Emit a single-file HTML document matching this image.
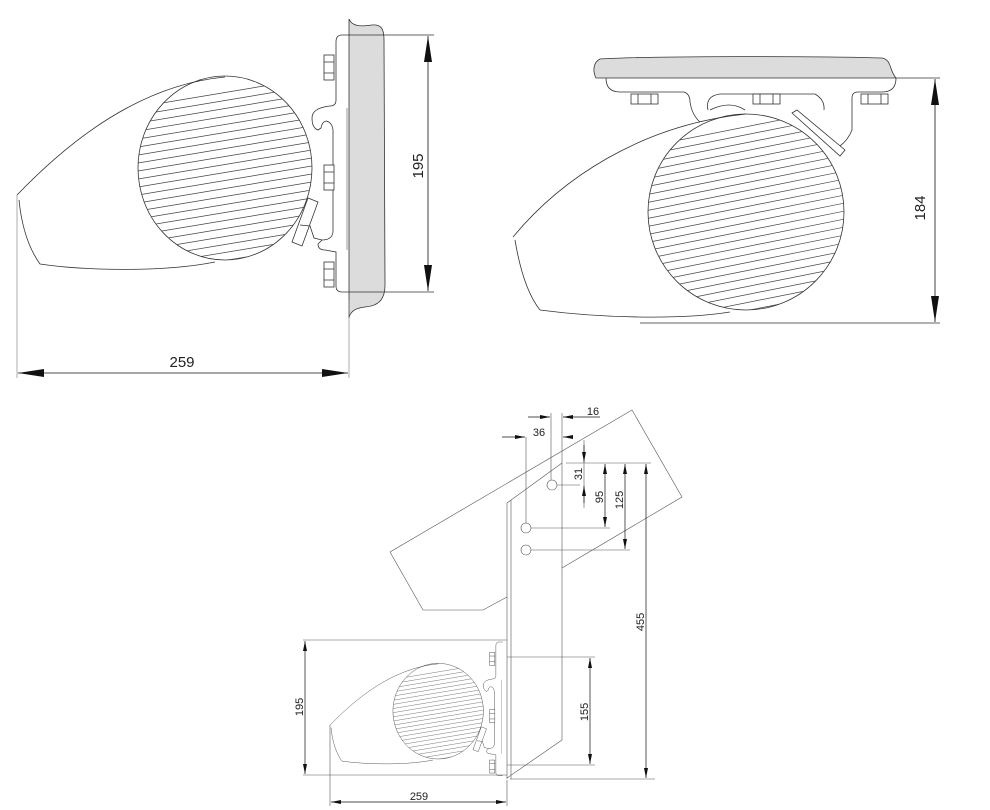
<!DOCTYPE html>
<html><head><meta charset="utf-8"><style>
html,body{margin:0;padding:0;background:#fff;}
svg{display:block;}
text{font-family:"Liberation Sans",sans-serif;fill:#222;}
</style></head><body>
<svg width="990" height="810" viewBox="0 0 990 810" xmlns="http://www.w3.org/2000/svg">
<defs>
<marker id="ar" viewBox="0 0 10 4" refX="10" refY="2" markerWidth="10" markerHeight="4" orient="auto-start-reverse" markerUnits="userSpaceOnUse"><path d="M0,0 L10,2 L0,4z" fill="#111"/></marker>
<marker id="ab" viewBox="0 0 26 8" refX="26" refY="4" markerWidth="26" markerHeight="8" orient="auto-start-reverse" markerUnits="userSpaceOnUse"><path d="M0,0 L26,4 L0,8z" fill="#111"/></marker>
<clipPath id="c1"><ellipse cx="225" cy="168" rx="87" ry="92"/></clipPath>
<clipPath id="c2"><ellipse cx="746" cy="212" rx="98" ry="98"/></clipPath>
<g id="spk">
 <path d="M17,195 C70,140 140,85 225,77" fill="none" stroke="#333" stroke-width="0.8"/>
 <path d="M19,200 C22,230 30,250 40,264 C80,270 160,273 215,262" fill="none" stroke="#333" stroke-width="0.8"/>
 <ellipse cx="225" cy="168" rx="87" ry="92" fill="none" stroke="#333" stroke-width="0.8"/>
 <g clip-path="url(#c1)" stroke="#444" stroke-width="0.7">
  <path d="M120,110 L330,75 M120,118 L330,83 M120,126 L330,91 M120,134 L330,99 M120,142 L330,107 M120,150 L330,115 M120,158 L330,123 M120,166 L330,131 M120,174 L330,139 M120,182 L330,147 M120,190 L330,155 M120,198 L330,163 M120,206 L330,171 M120,214 L330,179 M120,222 L330,187 M120,230 L330,195 M120,238 L330,203 M120,246 L330,211 M120,254 L330,219 M120,262 L330,227 M120,270 L330,235 M120,278 L330,243 M120,286 L330,251 M120,294 L330,259 M120,302 L330,267 M120,310 L330,275 M120,318 L330,283"/>
 </g>
 <path d="M349,35 L342,35 Q336,35 336,42 L336,100 Q336,106 330,106 Q312,108 312,118 Q312,128 318,130 L321,128 Q322,122 326,121 Q332,122 333,130 L333,232 Q332,240 322,240 L318,244 Q318,250 325,250 L336,252 L336,286 Q336,292 342,292 L349,292" fill="none" stroke="#333" stroke-width="0.8"/>
 <path d="M347,108 L347,250" stroke="#555" stroke-width="0.6"/>
 <path d="M308,198 L318,202 L302,246 L292,242 Z" fill="#fff" stroke="#333" stroke-width="0.8"/>
 <path d="M300,225 L310,226 L314,238 L322,240" fill="none" stroke="#333" stroke-width="0.8"/>
 <g fill="#fff" stroke="#333" stroke-width="0.8">
  <rect x="324" y="55" width="10" height="25"/><path d="M324,62 H334 M324,73 H334"/>
  <rect x="324" y="165" width="10" height="25"/><path d="M324,172 H334 M324,183 H334"/>
  <rect x="324" y="262" width="10" height="25"/><path d="M324,269 H334 M324,280 H334"/>
 </g>
</g>
</defs>

<!-- TOP LEFT -->
<path d="M349,19 C352,26 360,27 372,25 C382,24 384,30 384,40 L385,285 C385,300 378,306 365,307 C355,308 350,312 349,318 Z" fill="#dcdcdc" stroke="#333" stroke-width="0.8"/>
<use href="#spk"/>
<path d="M349,35 H434 M349,292 H434" stroke="#333" stroke-width="0.8"/>
<line x1="428" y1="36" x2="428" y2="291" stroke="#111" stroke-width="0.8" marker-start="url(#ab)" marker-end="url(#ab)"/>
<text x="0" y="0" font-size="15" transform="translate(423,166) rotate(-90)" text-anchor="middle">195</text>
<path d="M17,195 V378 M349,300 V378" stroke="#777" stroke-width="0.6"/>
<line x1="18" y1="373" x2="348" y2="373" stroke="#111" stroke-width="0.8" marker-start="url(#ab)" marker-end="url(#ab)"/>
<text x="182" y="367" font-size="15" text-anchor="middle">259</text>

<!-- TOP RIGHT -->
<path d="M596,78 C592,70 594,62 600,59 C650,56 820,56 882,58 C892,60 889,70 896,78 Z" fill="#dcdcdc" stroke="#333" stroke-width="0.8"/>
<path d="M606,78 Q606,92 620,92 L684,92 Q690,94 690,102 Q692,115 700,122 M896,78 Q896,92 882,92 L858,92 Q852,92 852,98 L852,130 Q848,140 840,146" fill="none" stroke="#333" stroke-width="0.8"/>
<path d="M708,110 Q705,96 720,94 L815,94 Q825,100 824,110 M710,110 Q730,100 745,110" fill="none" stroke="#333" stroke-width="0.8"/>
<g fill="#fff" stroke="#333" stroke-width="0.8">
 <rect x="631" y="94" width="27" height="10"/><path d="M638,94 V104 M651,94 V104"/>
 <rect x="753" y="94" width="27" height="10"/><path d="M760,94 V104 M773,94 V104"/>
 <rect x="861" y="94" width="27" height="10"/><path d="M868,94 V104 M881,94 V104"/>
</g>
<path d="M513,237 C560,180 640,125 746,114" fill="none" stroke="#333" stroke-width="0.8"/>
<path d="M515,240 C520,270 528,295 540,310 C600,318 680,320 730,312" fill="none" stroke="#333" stroke-width="0.8"/>
<ellipse cx="746" cy="212" rx="98" ry="98" fill="none" stroke="#333" stroke-width="0.8"/>
<g clip-path="url(#c2)" stroke="#444" stroke-width="0.7">
 <path d="M640,148 L860,104 M640,156 L860,112 M640,164 L860,120 M640,172 L860,128 M640,180 L860,136 M640,188 L860,144 M640,196 L860,152 M640,204 L860,160 M640,212 L860,168 M640,220 L860,176 M640,228 L860,184 M640,236 L860,192 M640,244 L860,200 M640,252 L860,208 M640,260 L860,216 M640,268 L860,224 M640,276 L860,232 M640,284 L860,240 M640,292 L860,248 M640,300 L860,256 M640,308 L860,264 M640,316 L860,272 M640,324 L860,280 M640,332 L860,288 M640,340 L860,296 M640,348 L860,304 M640,356 L860,312"/>
</g>
<path d="M792,113 L797,110 L845,150 L840,156 Z" fill="#fff" stroke="#333" stroke-width="0.8"/>
<path d="M896,78 H940 M640,323 H940" stroke="#333" stroke-width="0.8"/>
<line x1="935" y1="79" x2="935" y2="322" stroke="#111" stroke-width="0.8" marker-start="url(#ab)" marker-end="url(#ab)"/>
<text font-size="15" transform="translate(925,208) rotate(-90)" text-anchor="middle">184</text>

<!-- BOTTOM -->
<g stroke="#555" stroke-width="0.6" fill="none">
 <path d="M507,597 L483,610 L423,610 L390,552 L632,410 L682,497 L562,568"/>
 <path d="M507,503 V779 M511,500 V779 M562,463 V740 M507,503 L562,463 M562,740 L507,778 M510,779 H655"/>
 <circle cx="552" cy="485" r="5"/><circle cx="526" cy="528" r="5"/><circle cx="526" cy="550" r="5"/>
 <path d="M551,413 V480 M562,413 V463 M526,437 V523 M566,463 H651 M557,485 H580 M531,528 H610 M531,550 H630 M584,440 V508"/>
 <path d="M303,640 H507 M303,775 H507 M330,725 V806 M507,780 V806 M507,657 H595 M507,765 H595"/>
</g>
<g transform="translate(330,642) scale(0.52) translate(-17,-35)"><use href="#spk"/></g>
<g stroke="#111" stroke-width="0.7" fill="none">
 <line x1="528" y1="417" x2="550" y2="417" marker-end="url(#ar)"/>
 <line x1="600" y1="417" x2="563" y2="417" marker-end="url(#ar)"/>
 <line x1="502" y1="437" x2="525" y2="437" marker-end="url(#ar)"/>
 <line x1="573" y1="437" x2="563" y2="437" marker-end="url(#ar)"/>
 <line x1="584" y1="445" x2="584" y2="462" marker-end="url(#ar)"/>
 <line x1="584" y1="503" x2="584" y2="486" marker-end="url(#ar)"/>
 <line x1="605" y1="464" x2="605" y2="527" marker-start="url(#ar)" marker-end="url(#ar)"/>
 <line x1="625" y1="464" x2="625" y2="549" marker-start="url(#ar)" marker-end="url(#ar)"/>
 <line x1="646" y1="464" x2="646" y2="778" marker-start="url(#ar)" marker-end="url(#ar)"/>
 <line x1="590" y1="658" x2="590" y2="764" marker-start="url(#ar)" marker-end="url(#ar)"/>
 <line x1="305" y1="641" x2="305" y2="774" marker-start="url(#ar)" marker-end="url(#ar)"/>
 <line x1="331" y1="802" x2="506" y2="802" marker-start="url(#ar)" marker-end="url(#ar)"/>
</g>
<g font-size="11">
 <text x="593" y="415" text-anchor="middle">16</text>
 <text x="539" y="436" text-anchor="middle">36</text>
 <text transform="translate(582,474) rotate(-90)" text-anchor="middle">31</text>
 <text transform="translate(603,497) rotate(-90)" text-anchor="middle">95</text>
 <text transform="translate(623,500) rotate(-90)" text-anchor="middle">125</text>
 <text transform="translate(644,622) rotate(-90)" text-anchor="middle">455</text>
 <text transform="translate(588,712) rotate(-90)" text-anchor="middle">155</text>
 <text transform="translate(303,707) rotate(-90)" text-anchor="middle">195</text>
 <text x="419" y="800" text-anchor="middle">259</text>
</g>
</svg>
</body></html>
